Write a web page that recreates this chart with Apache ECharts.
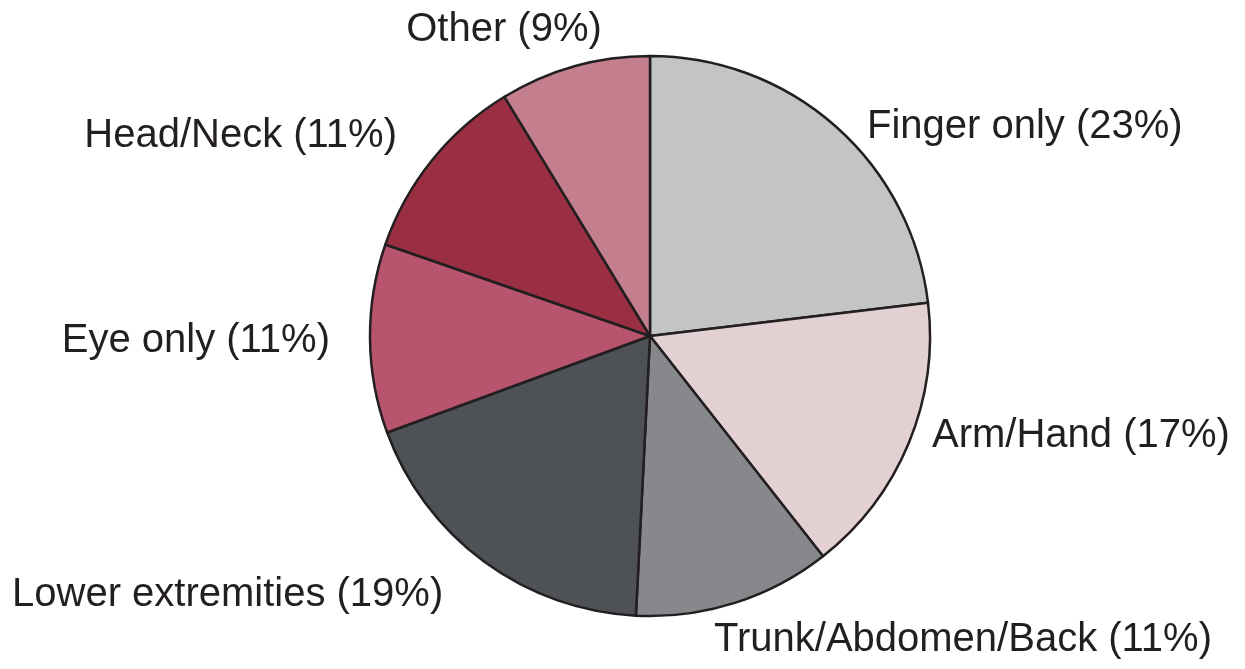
<!DOCTYPE html>
<html lang="en">
<head>
<meta charset="utf-8">
<script type="text/javascript" src="https://cdn.jsdelivr.net/npm/echarts@6/dist/echarts.min.js"></script>
<style>
  html, body { margin: 0; padding: 0; background: #fff; }
  #main { width: 1245px; height: 669px; }
</style>
</head>
<body>
<div id="main"></div>
<script type="text/javascript">
// slices, clockwise from 12 o'clock
var names = ['Finger only', 'Arm/Hand', 'Trunk/Abdomen/Back', 'Lower extremities', 'Eye only', 'Head/Neck', 'Other'];
// shares as measured from the slice angles
var values = [23.1, 16.3, 11.4, 18.6, 10.9, 11.0, 8.7];
// percentages printed in the labels
var pctLabels = [23, 17, 11, 19, 11, 11, 9];
var colors = ['#c3c4c6', '#e3d0d3', '#86888c', '#4e5256', '#b9546f', '#9a2e43', '#c47f8f'];

// where each label sits (x, y, align)
var labelSpots = [
    [867, 127, 'left'],
    [932, 436, 'left'],
    [714, 640, 'left'],
    [12, 595, 'left'],
    [330, 341, 'right'],
    [397, 136, 'right'],
    [504, 30, 'center']
];

var myChart = echarts.init(document.getElementById('main'));

var pieData = [];
for (var i = 0; i < names.length; i++) {
    pieData.push({
        name: names[i],
        value: values[i],
        pct: pctLabels[i],
        itemStyle: { color: colors[i] }
    });
}

var option = {
    animation: false,
    series: [{
        type: 'pie',
        center: [650, 336],
        radius: 280,
        startAngle: 90,
        clockwise: true,
        avoidLabelOverlap: false,
        data: pieData,
        itemStyle: {
            borderColor: '#231f20',
            borderWidth: 2.5
        },
        label: {
            show: true,
            position: 'outside',
            fontFamily: 'Liberation Sans, Arial, sans-serif',
            fontSize: 40,
            color: '#231f20',
            formatter: function (p) {
                return p.name + ' (' + p.data.pct + '%)';
            }
        },
        labelLine: { show: false },
        labelLayout: function (params) {
            var s = labelSpots[params.dataIndex];
            return { x: s[0], y: s[1], align: s[2], verticalAlign: 'middle' };
        },
        emphasis: { disabled: true }
    }]
};

myChart.setOption(option);
</script>
</body>
</html>
